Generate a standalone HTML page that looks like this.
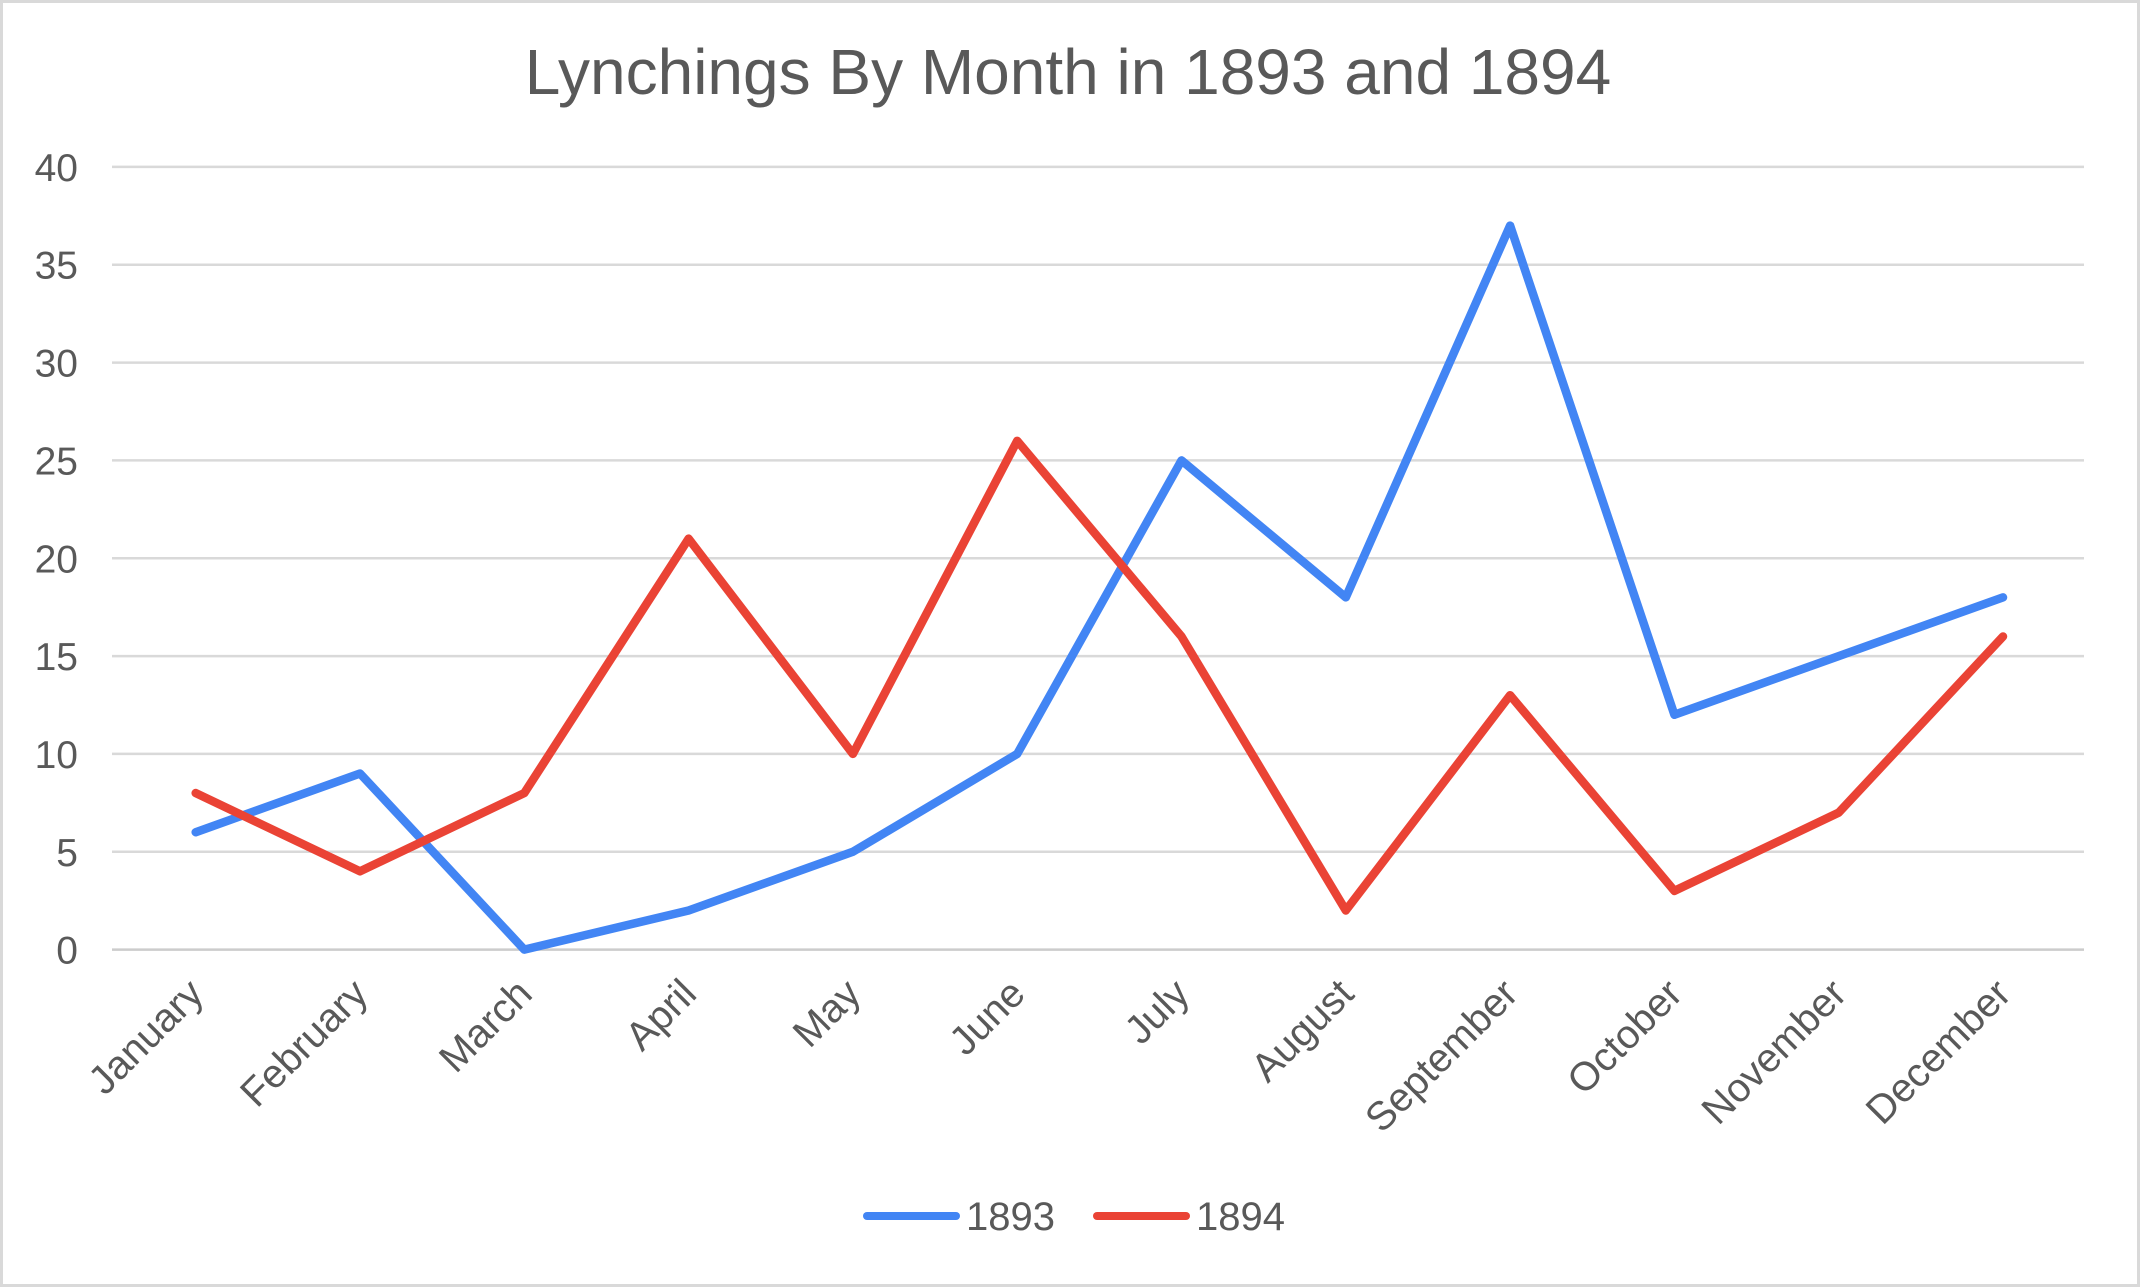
<!DOCTYPE html>
<html><head><meta charset="utf-8"><style>
html,body{margin:0;padding:0;background:#fff;}
svg{display:block;font-family:"Liberation Sans",Arial,sans-serif;}
</style></head><body>
<svg id="chart" width="2140" height="1287" viewBox="0 0 2140 1287">
<rect x="1.5" y="1.5" width="2137" height="1284" fill="#fff" stroke="#d9d9d9" stroke-width="3"/>
<text x="1068" y="94" text-anchor="middle" font-size="64" fill="#595959">Lynchings By Month in 1893 and 1894</text>
<g id="grid"></g><g id="yticks"></g><g id="xticks"></g><g id="series"></g>
<g>
<g>
<line x1="867" y1="1216" x2="956" y2="1216" stroke="#4285F4" stroke-width="8" stroke-linecap="round"/>
<text x="966" y="1230" font-size="40" fill="#595959">1893</text></g>
<g>
<line x1="1097" y1="1216" x2="1186" y2="1216" stroke="#EA4335" stroke-width="8" stroke-linecap="round"/>
<text x="1196" y="1230" font-size="40" fill="#595959">1894</text></g>
</g>
</svg>
<script>
const categories=["January","February","March","April","May","June","July","August","September","October","November","December"];
const series1893=[6,9,0,2,5,10,25,18,37,12,15,18];
const series1894=[8,4,8,21,10,26,16,2,13,3,7,16];
const yTicks=[0,5,10,15,20,25,30,35,40];
const NS="http://www.w3.org/2000/svg";
const y0=949.6,y40=166.9,xL=112,xR=2084,xFirst=195.7,xLast=2003;
const yS=v=>y0+(y40-y0)*v/40;
const xS=i=>xFirst+(xLast-xFirst)*i/(categories.length-1);
function mk(tag,attrs,parent){const e=document.createElementNS(NS,tag);for(const k in attrs)e.setAttribute(k,attrs[k]);parent.appendChild(e);return e;}
const grid=document.getElementById('grid'),yt=document.getElementById('yticks'),xt=document.getElementById('xticks'),sg=document.getElementById('series');
yTicks.forEach(v=>{
 const l=mk('line',{x1:xL,x2:xR,y1:yS(v),y2:yS(v),stroke:v===0?'#cccccc':'#d9d9d9','stroke-width':2.5},grid);
 
 
 const t=mk('text',{x:78,y:yS(v)+14,'text-anchor':'end','font-size':39,fill:'#595959'},yt);
 t.textContent=v;
 
 
});
categories.forEach((c,i)=>{
 const x=xS(i)+10,y=996;
 const t=mk('text',{x:x,y:y,'text-anchor':'end','font-size':40,fill:'#595959',transform:`rotate(-45 ${x} ${y})`},xt);
 t.textContent=c;
 
 
});
function line(data,color,name){
 const p=mk('polyline',{points:data.map((v,i)=>xS(i)+','+yS(v)).join(' '),fill:'none',stroke:color,'stroke-width':8.5,'stroke-linejoin':'round','stroke-linecap':'round'},sg);
 
 
}
line(series1893,'#4285F4','series-1893-line');
line(series1894,'#EA4335','series-1894-line');
</script>
</body></html>
